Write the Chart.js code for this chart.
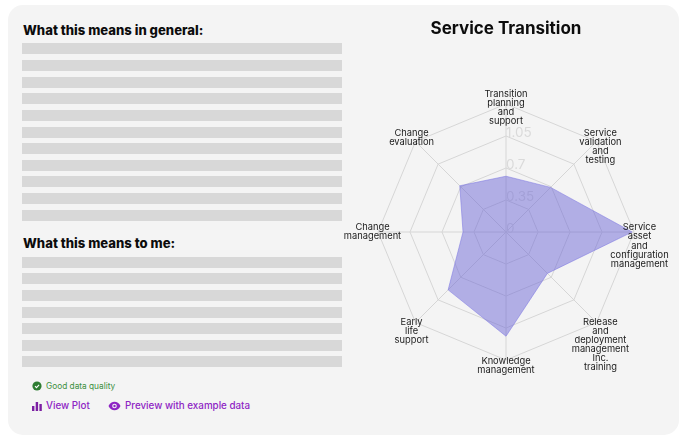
<!DOCTYPE html>
<html><head><meta charset="utf-8">
<script src="https://cdn.jsdelivr.net/npm/chart.js@4"></script>
<style>
html,body{margin:0;padding:0;background:#fff;width:684px;height:441px;overflow:hidden;font-family:Inter,sans-serif}
#card{position:absolute;left:8px;top:5px;width:671px;height:430px;background:#f4f4f4;border-radius:15px}
.h{position:absolute;left:23px;font-weight:800;font-size:13.1px;color:#0c0c0c;white-space:nowrap;line-height:16px}
.bar{position:absolute;left:22px;width:320px;height:11px;background:#d8d8d8}
.t{position:absolute;white-space:nowrap;line-height:12px}
svg{position:absolute}
#wrap{position:absolute;left:336px;top:18px;width:340px;height:400px}
</style></head><body>
<div id="card"></div>
<div class="h" style="top:22px">What this means in general:</div>
<div class="h" style="top:235px">What this means to me:</div>
<div id="bars"></div>
<svg style="left:32px;top:381px" width="10" height="10" viewBox="0 0 10 10"><circle cx="5" cy="5" r="4.6" fill="#2e7d32"/><path d="M3 5.1l1.5 1.5L7.1 3.8" stroke="#fff" stroke-width="1.1" fill="none"/></svg>
<div class="t" style="left:46px;top:380px;font-size:8.3px;color:#3c8f40">Good data quality</div>
<svg style="left:32px;top:401px" width="10" height="10" viewBox="0 0 10 10"><path d="M0 5h2.4v5H0zM3.7 1h2.4v9H3.7zM7.4 3h2.4v7H7.4z" fill="#7b1fa2"/></svg>
<div class="t" style="left:46px;top:400px;font-size:9.8px;font-weight:500;color:#8e24c4">View Plot</div>
<svg style="left:108px;top:401px" width="13" height="10" viewBox="0 0 13 10"><path d="M.5 5C2 2 4 .7 6.5.7S11 2 12.500 5C11 8 9 9.300 6.500 9.300S2 8 .5 5z" fill="#8e24c4"/><circle cx="6.500" cy="5" r="2.300" fill="#f4f4f4"/><circle cx="6.500" cy="5" r="1.200" fill="#8e24c4"/></svg>
<div class="t" style="left:125px;top:400px;font-size:9.8px;font-weight:500;color:#8e24c4">Preview with example data</div>
<div id="wrap"><canvas id="c"></canvas></div>
<script>
const barTops = [43,60,77,93,110,127,143,160,176,193,210,257,273,290,307,323,340,356];
const categories = [
  ["Transition","planning","and","support"],
  ["Service","validation","and","testing"],
  ["Service","asset","and","configuration","management"],
  ["Release","and","deployment","management","Inc.","training"],
  ["Knowledge","management"],
  ["Early","life","support"],
  ["Change","management"],
  ["Change","evaluation"]
];
const seriesValues = [0.61,0.69,1.38,0.64,1.14,0.895,0.47,0.715];
const tickStep = 0.35;
const axisMax = 1.4;
const labelValue = 1.46;
const tickLabels = ["0","0.35","0.7","1.05"];

const bars = document.getElementById('bars');
barTops.forEach(y => { const d = document.createElement('div'); d.className='bar'; d.style.top=y+'px'; bars.appendChild(d); });

const radarText = {
  id:'radarText',
  beforeDatasetsDraw(chart){
    const s = chart.scales.r, ctx = chart.ctx;
    ctx.save();
    ctx.font = '13.5px Inter, sans-serif';
    ctx.fillStyle = '#dadada';
    ctx.textAlign = 'left'; ctx.textBaseline = 'middle';
    tickLabels.forEach((label,i) => {
      const p = s.getPointPositionForValue(0, s.ticks[i].value);
      ctx.fillText(label, p.x, p.y - 3.5);
    });
    ctx.restore();
  },
  afterDatasetsDraw(chart){
    const s = chart.scales.r, ctx = chart.ctx;
    ctx.save();
    ctx.font = '9.3px Inter, sans-serif';
    ctx.fillStyle = '#1a1a1a';
    ctx.textAlign = 'center'; ctx.textBaseline = 'middle';
    const lh = 9.1;
    categories.forEach((lines,i) => {
      const d = s.getPointPositionForValue(i, labelValue);
      lines.forEach((l,k) => ctx.fillText(l, d.x, d.y - 4.5 + k*lh));
    });
    ctx.restore();
  }
};

new Chart(document.getElementById('c'), {
  type:'radar',
  data:{ labels:categories, datasets:[{ data:seriesValues, backgroundColor:'rgba(101,96,212,0.47)', borderColor:'rgba(125,120,225,0.55)', borderWidth:1, pointRadius:0, tension:0 }]},
  options:{
    responsive:true, maintainAspectRatio:false, animation:false, devicePixelRatio:1,
    layout:{ padding:{left:42,right:42,top:1,bottom:56.3} },
    plugins:{
      legend:{display:false}, tooltip:{enabled:false},
      title:{ display:true, text:'Service Transition', color:'#0c0c0c', font:{family:'Inter, sans-serif',size:17,weight:'700',lineHeight:1.2}, padding:{top:0,bottom:64.7} }
    },
    scales:{ r:{ min:0, max:axisMax, ticks:{ stepSize:tickStep, display:false }, pointLabels:{display:false},
      grid:{color:'#d6d6d6',lineWidth:1}, angleLines:{color:'#d6d6d6',lineWidth:1} } }
  },
  plugins:[radarText]
});
</script>
</body></html>
